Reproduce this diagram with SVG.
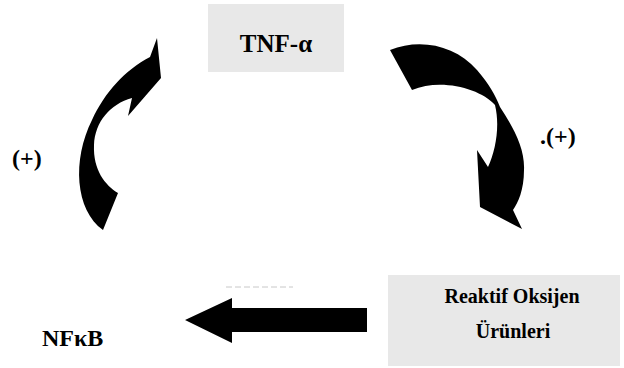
<svg xmlns="http://www.w3.org/2000/svg" width="624" height="368" viewBox="0 0 624 368">
<style>
.box{fill:#e8e8e8}
.t{font-family:"Liberation Serif","DejaVu Serif","Times New Roman",serif;font-weight:bold;fill:#000}
.arr{fill:#000}
</style>
<rect width="624" height="368" fill="#fff"/>
<g id="node-tnf">
<rect class="box" x="208" y="4" width="136" height="68"/>
<text class="t" x="276" y="52" font-size="25" text-anchor="middle" font-family="Liberation Serif, serif">TNF-α</text>
</g>
<g id="node-ros">
<rect class="box" x="388" y="275" width="232" height="91"/>
<text class="t" x="512" y="303" font-size="20" text-anchor="middle" font-family="Liberation Serif, serif">Reaktif Oksijen</text>
<text class="t" x="513" y="338" font-size="20" text-anchor="middle" font-family="Liberation Serif, serif">Ürünleri</text>
</g>
<g id="node-nfkb">
<text class="t" x="42" y="346" font-size="24" font-family="Liberation Serif, serif">NFκB</text>
</g>
<g id="label-left">
<text class="t" x="12" y="166" font-size="24" font-family="Liberation Serif, serif">(+)</text>
</g>
<g id="label-right">
<text class="t" x="540" y="144" font-size="24" font-family="Liberation Serif, serif">.(+)</text>
</g>
<g id="connectors">
<path class="arr" d="M103,230 C75,210 72,160 92,120 C105,92 125,70 150,57 L157,38 L161,78 L128,116 L132,98 C110,104 95,122 94,145 C93,170 105,185 118,193 Z"/>
<path class="arr" d="M390,50 C420,38 455,45 477,70 C490,85 495,95 500,107 C515,130 525,150 524,170 C524,190 518,203 513,210 L522,229 L480,207 L477,150 L488,167 C496,150 500,125 495,105 C480,88 440,78 412,90 Z"/>
<path class="arr" d="M367,308 L232,308 L232,298 L185,320 L232,343 L232,332 L367,332 Z"/>
<line x1="226" y1="287" x2="293" y2="287" stroke="#c8c8c8" stroke-width="1" stroke-dasharray="6,3"/>
</g>
</svg>
